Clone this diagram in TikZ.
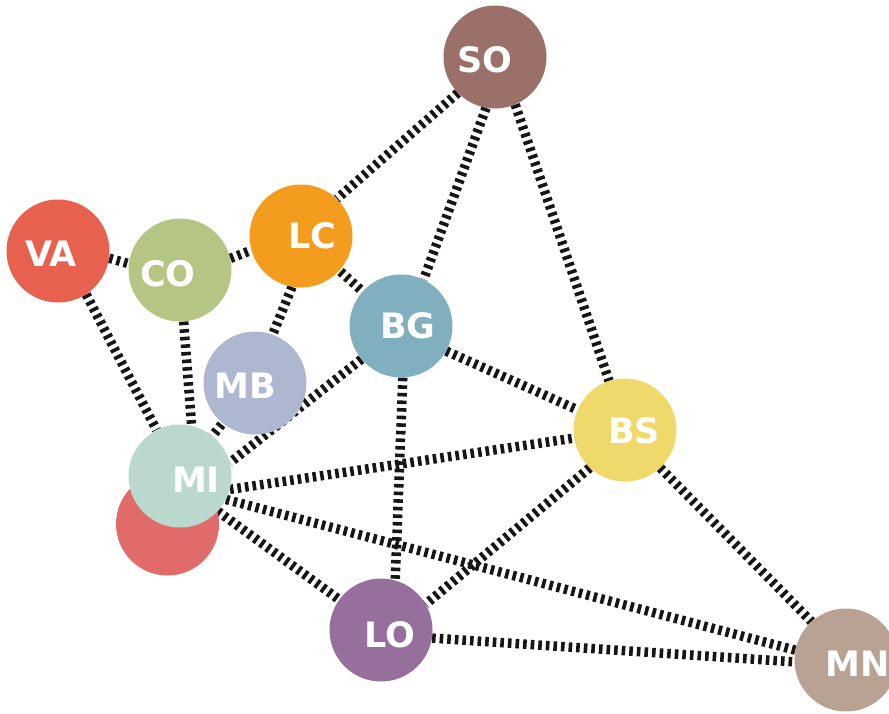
\documentclass[tikz,border=0pt]{standalone}
\usepackage{fontspec}
\newfontfamily\lblfont{DejaVu Sans}
\definecolor{cSO}{HTML}{9B7068}
\definecolor{cVA}{HTML}{E8604E}
\definecolor{cCO}{HTML}{B5C684}
\definecolor{cLC}{HTML}{F39C1E}
\definecolor{cBG}{HTML}{80AFC0}
\definecolor{cMB}{HTML}{ADB8D0}
\definecolor{cMI}{HTML}{BAD8CB}
\definecolor{cPV}{HTML}{E06B68}
\definecolor{cBS}{HTML}{F0D96B}
\definecolor{cLO}{HTML}{976F9D}
\definecolor{cMN}{HTML}{B8A294}
\definecolor{edgecol}{HTML}{161616}
\pgfdeclarelayer{bg}
\pgfsetlayers{bg,main}
\tikzset{
  prov/.style={circle, minimum size=103pt, inner sep=0pt, draw=none},
  lbl/.style={text=white, font=\lblfont\bfseries\fontsize{35}{35}\selectfont, inner sep=0pt},
  link/.style={draw=edgecol, line width=9.5pt, dash pattern=on 3.6pt off 4pt}
}
\begin{document}
\begin{tikzpicture}[x=1pt,y=-1pt]
\useasboundingbox (0,0) rectangle (889,713);
% circles
\node[prov, fill=cSO] (SO) at (495,57) {};
\node[prov, fill=cVA] (VA) at (58,251) {};
\node[prov, fill=cCO] (CO) at (180,270) {};
\node[prov, fill=cLC] (LC) at (301,236) {};
\node[prov, fill=cBG] (BG) at (401,326) {};
\node[prov, fill=cMB] (MB) at (255,383) {};
\node[prov, fill=cPV] (PV) at (167.5,524) {};
\node[prov, fill=cMI] (MI) at (180,476) {};
\node[prov, fill=cBS] (BS) at (625,430) {};
\node[prov, fill=cLO] (LO) at (381,630) {};
\node[prov, fill=cMN] (MN) at (846,660) {};
% labels
\node[lbl] (tSO) at (485,60) {SO};
\node[lbl] (tVA) at (51,254) {VA};
\node[lbl] (tCO) at (168,274) {CO};
\node[lbl] (tLC) at (312,236) {LC};
\node[lbl] (tBG) at (408,326) {BG};
\node[lbl] (tMB) at (245,386) {MB};
\node[lbl] (tMI) at (196,480) {MI};
\node[lbl] (tBS) at (634,431) {BS};
\node[lbl] (tLO) at (390,635) {LO};
\node[lbl] (tMN) at (858,664) {MN};
% links
\begin{pgfonlayer}{bg}
\draw[link] (SO.224) -- (LC.46);
\draw[link] (SO.260) -- (BG.64);
\draw[link] (SO.-67) -- (BS.108);
\draw[link] (VA.-8) -- (CO.173);
\draw[link] (CO.13) -- (LC.196);
\draw[link] (VA.-57) -- (MI.117);
\draw[link] (CO.-86) -- (MI.77);
\draw[link] (LC.-100) -- (MB.70);
\draw[link] (LC.center) -- (BG.center);
\draw[link] (BG.220) -- (MI.15);
\draw[link] (MB.center) -- (MI.center);
\draw[link] (BG.-29) -- (BS.157);
\draw[link] (BG.-88) -- (LO.74);
\draw[link] (MI.-15) -- (BS.189);
\draw[link] (MI.-27) -- (MN.169);
\draw[link] (MI.-43) -- (LO.144);
\draw[link] (BS.227) -- (LO.30);
\draw[link] (BS.-47) -- (MN.132);
\draw[link] (LO.-9) -- (MN.182);
\end{pgfonlayer}
\end{tikzpicture}
\end{document}
